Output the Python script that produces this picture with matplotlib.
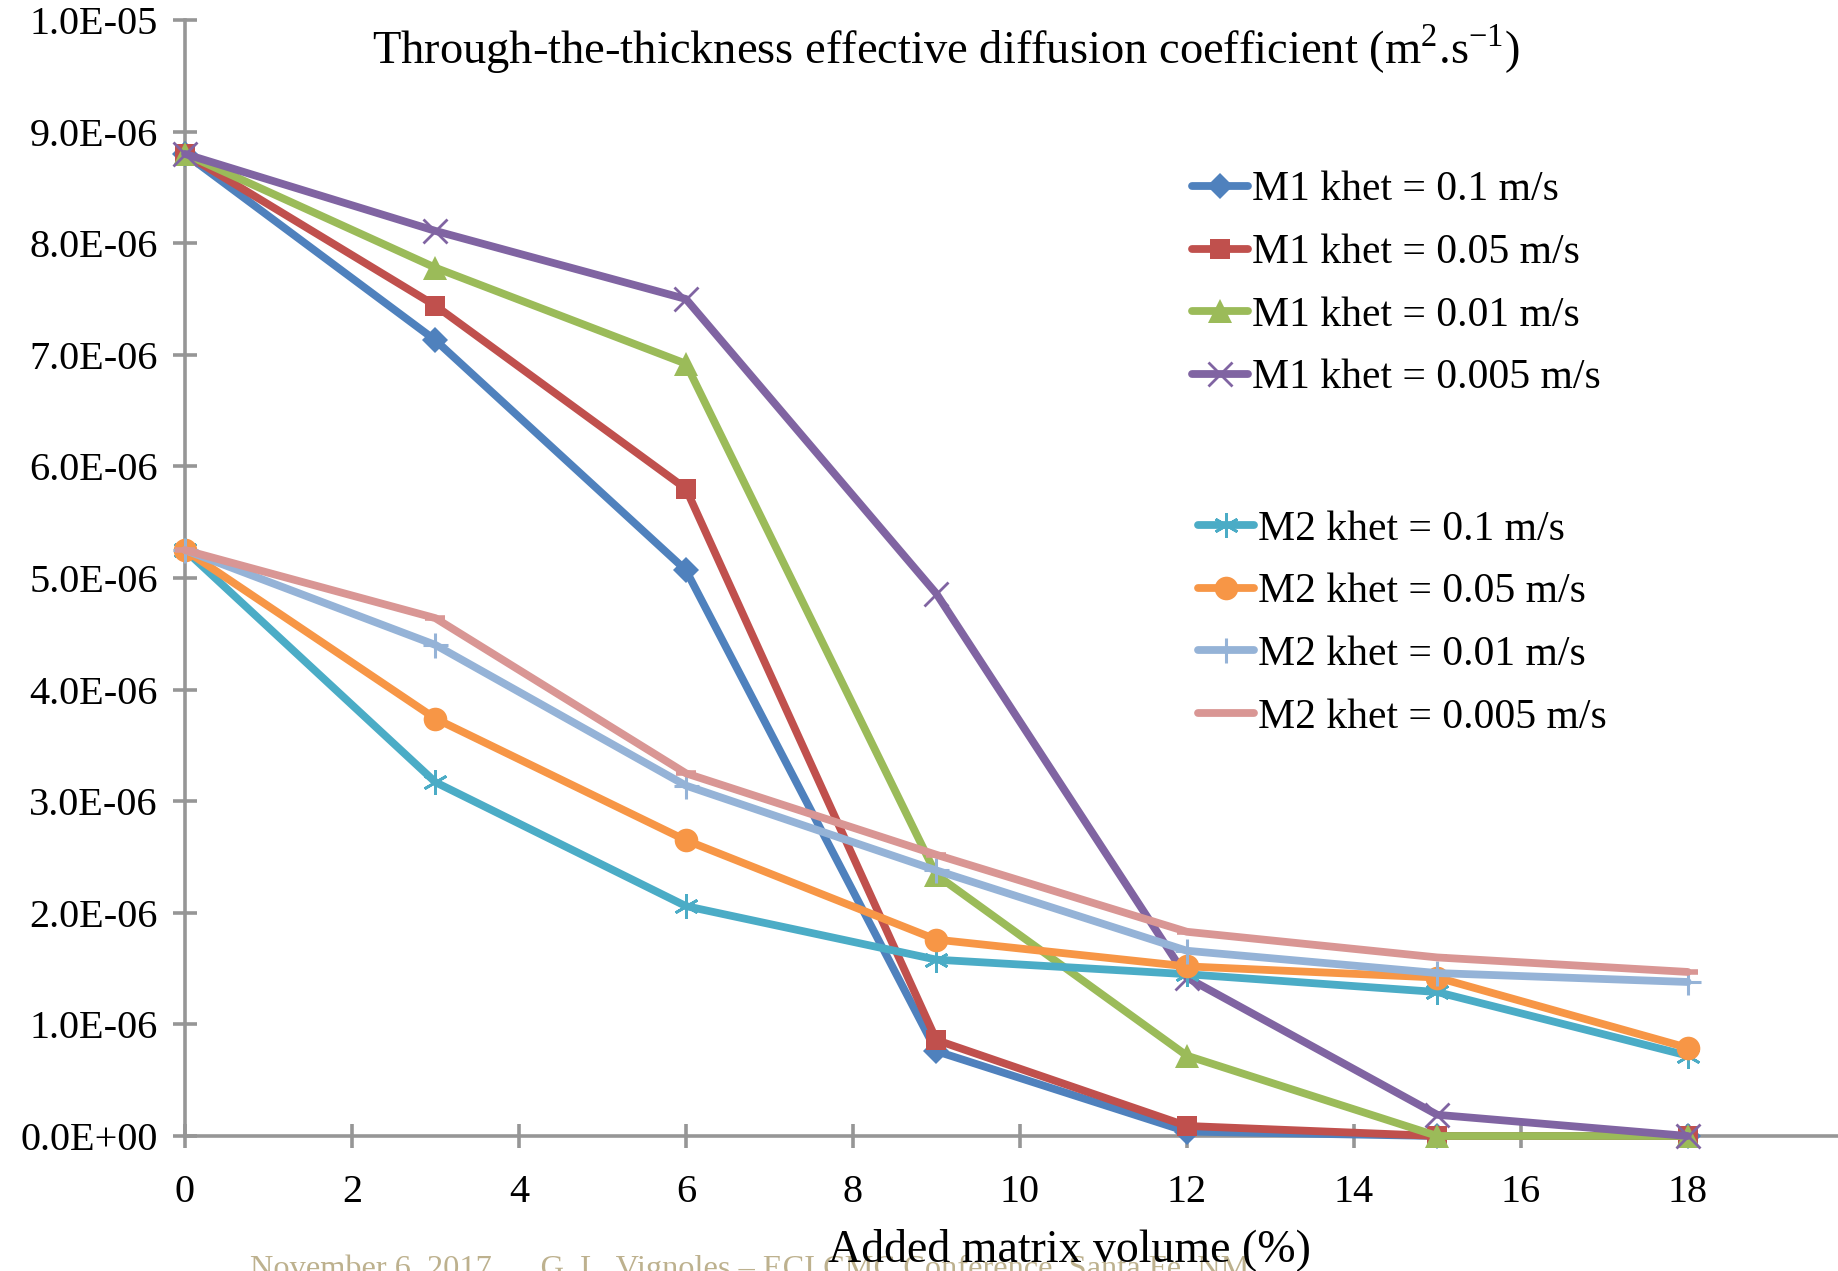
import matplotlib
matplotlib.use("Agg")
import matplotlib.pyplot as plt

# Added matrix volume (%)
volume = [0, 3, 6, 9, 12, 15, 18]

# Through-the-thickness effective diffusion coefficient, units of 1e-6 m2/s
m1_k01 = [8.80, 7.13, 5.07, 0.76, 0.04, 0.00, 0.00]
m1_k005 = [8.80, 7.44, 5.80, 0.86, 0.09, 0.00, 0.00]
m1_k001 = [8.80, 7.78, 6.92, 2.34, 0.72, 0.00, 0.00]
m1_k0005 = [8.80, 8.11, 7.50, 4.86, 1.42, 0.19, 0.00]
m2_k01 = [5.25, 3.17, 2.06, 1.58, 1.45, 1.29, 0.72]
m2_k005 = [5.25, 3.74, 2.65, 1.76, 1.52, 1.42, 0.79]
m2_k001 = [5.25, 4.40, 3.14, 2.38, 1.66, 1.46, 1.38]
m2_k0005 = [5.25, 4.64, 3.25, 2.52, 1.83, 1.60, 1.47]

labels_m1 = ["M1 khet = 0.1 m/s", "M1 khet = 0.05 m/s",
             "M1 khet = 0.01 m/s", "M1 khet = 0.005 m/s"]
labels_m2 = ["M2 khet = 0.1 m/s", "M2 khet = 0.05 m/s",
             "M2 khet = 0.01 m/s", "M2 khet = 0.005 m/s"]

y_ticks = [0.0, 1e-6, 2e-6, 3e-6, 4e-6, 5e-6, 6e-6, 7e-6, 8e-6, 9e-6, 1e-5]
y_ticklabels = ["0.0E+00", "1.0E-06", "2.0E-06", "3.0E-06", "4.0E-06", "5.0E-06",
                "6.0E-06", "7.0E-06", "8.0E-06", "9.0E-06", "1.0E-05"]
x_ticks = [0, 2, 4, 6, 8, 10, 12, 14, 16, 18]

plt.rcParams["font.family"] = ["Liberation Serif", "DejaVu Serif"]
plt.rcParams["mathtext.fontset"] = "custom"
plt.rcParams["mathtext.rm"] = "Liberation Serif"

fig = plt.figure(figsize=(18.38, 12.71), dpi=100)
ax = fig.add_axes([185 / 1838, 1 - 1136 / 1271, 1 - 185 / 1838, (1136 - 20) / 1271])

LW = 5.6
styles = [
    dict(color="#4F81BD", marker="D", ms=13, mew=0),
    dict(color="#C0504D", marker="s", ms=15, mew=0),
    dict(color="#9BBB59", marker="^", ms=17, mew=0),
    dict(color="#8064A2", marker="x", ms=17, mew=2.0),
    dict(color="#4BACC6", marker=(6, 2, 0), ms=18, mew=2.0),
    dict(color="#F79646", marker="o", ms=17, mew=0),
    dict(color="#95B3D7", marker="+", ms=18, mew=2.2),
    dict(color="#D99694", marker="_", ms=15, mew=4),
]
series = [m1_k01, m1_k005, m1_k001, m1_k0005, m2_k01, m2_k005, m2_k001, m2_k0005]
labels = labels_m1 + labels_m2

handles = []
for vals, st, lab in zip(series, styles, labels):
    h, = ax.plot(volume, [v * 1e-6 for v in vals], lw=LW, color=st["color"],
                 marker=st["marker"], markersize=st["ms"], markeredgewidth=st["mew"],
                 markeredgecolor=st["color"], markerfacecolor=st["color"],
                 solid_joinstyle="round", solid_capstyle="round", label=lab,
                 clip_on=False)
    handles.append(h)

ax.set_xlim(0, 19.8)
ax.set_ylim(0, 1e-5)
ax.set_yticks(y_ticks)
ax.set_yticklabels(y_ticklabels)
ax.set_xticks(x_ticks)
ax.set_xticklabels([str(t) for t in x_ticks])

axis_color = "#969696"
for side in ("top", "right"):
    ax.spines[side].set_visible(False)
for side in ("left", "bottom"):
    ax.spines[side].set_color(axis_color)
    ax.spines[side].set_linewidth(2.6)
    ax.spines[side].set_zorder(0.5)
ax.tick_params(axis="both", direction="inout", length=17, width=2.6,
               color=axis_color, labelsize=29, labelcolor="black")
ax.tick_params(axis="y", pad=11)
ax.tick_params(axis="x", pad=19)

fig.text(0.5147, 1 - 49 / 1271,
         "Through-the-thickness effective diffusion coefficient "
         "(m$^{\\mathregular{2}}$.s$^{\\mathregular{-1}}$)",
         ha="center", va="center", fontsize=33.5)

leg_kw = dict(frameon=False, fontsize=30, handlelength=1.35, handletextpad=0.1,
              labelspacing=0.58, borderpad=0, borderaxespad=0)
leg1 = fig.legend(handles=handles[:4], loc="upper left",
                  bbox_to_anchor=(1192 / 1838, 1 - 171 / 1271), **leg_kw)
leg2 = fig.legend(handles=handles[4:], loc="upper left",
                  bbox_to_anchor=(1198 / 1838, 1 - 510 / 1271), **leg_kw)

fig.text(1069 / 1838, 1 - 1250 / 1271, "Added matrix volume (%)",
         ha="center", va="center", fontsize=33, zorder=5)
fig.text(250 / 1838, 1 - 1254 / 1271,
         "November 6, 2017      G. L. Vignoles \u2013 ECI CMC Conference, Santa Fe, NM",
         ha="left", va="top", fontsize=23.3, color="#BDB18E", zorder=1)

fig.savefig("out.png", dpi=100)
